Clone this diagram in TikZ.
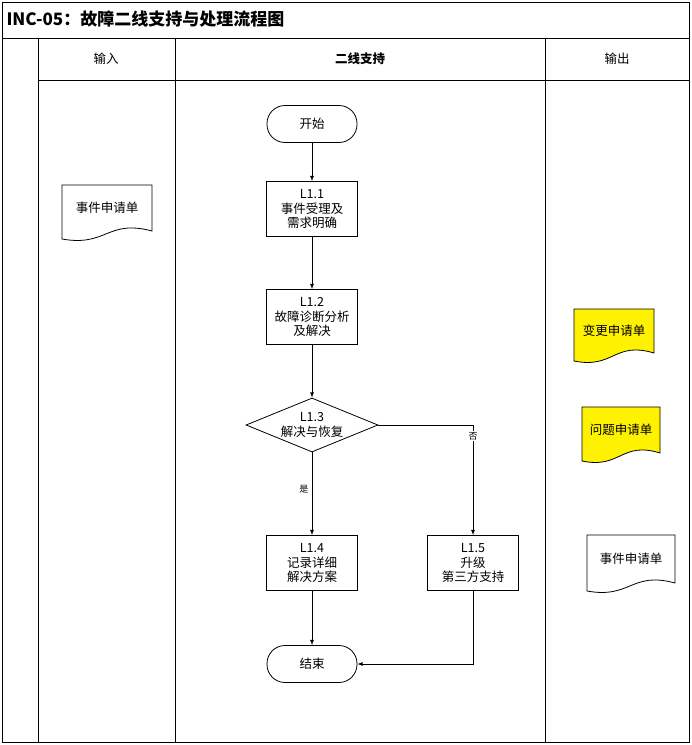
\documentclass[tikz,border=0pt]{standalone}
\usepackage{fontspec}
\setmainfont{Noto Sans CJK SC}
\usetikzlibrary{positioning,shapes,shapes.geometric,arrows,calc}

\tikzset{
  box/.style={draw, thick, fill=white, minimum width=91pt, minimum height=55pt, align=center, inner sep=1pt},
  term/.style={draw, thick, rounded corners=18pt, minimum width=90pt, minimum height=37pt},
  dec/.style={draw, thick, diamond, aspect=2.45, minimum width=132pt, minimum height=54pt, align=center, inner sep=0pt},
  flow/.style={thick, -latex},
  lane/.style={thick}
}
% document symbol: name, left x, top y, right x, bottom y, fill, text
\newcommand{\docnode}[7]{
  \draw[thick, fill=#6] (#2,#3) -- (#4,#3) -- (#4,#5-8)
    .. controls ({(#2+#4)/2},#5-20) and ({(#2+#4)/2},#5+8) .. (#2,#5) -- cycle;
  \node (#1) at ({(#2+#4)/2},{(#3+#5)/2-4}) {#7};
}

\begin{document}
\begin{tikzpicture}[x=1pt, y=-1pt, font=\fontsize{12.5}{14.5}\selectfont]
  \useasboundingbox (0,0) rectangle (692,745);
  % frame and lanes
  \draw[lane] (2,2) rectangle (689,742);
  \draw[lane] (2,38) -- (689,38);
  \draw[lane] (38,80) -- (689,80);
  \draw[lane] (38,38) -- (38,742);
  \draw[lane] (175,38) -- (175,742);
  \draw[lane] (545,38) -- (545,742);
  \node[anchor=west, font=\fontsize{17}{19}\selectfont\bfseries] (title) at (3,19) {INC-05：故障二线支持与处理流程图};
  \node (hin) at (106,59) {输入};
  \node[font=\fontsize{12.5}{14.5}\selectfont\bfseries] (hmid) at (360,59) {二线支持};
  \node (hout) at (617,59) {输出};

  % flow
  \node[term] (start) at (312,124) {开始};
  \node[box] (L11) at (312,209) {L1.1\\事件受理及\\需求明确};
  \node[box] (L12) at (312,317) {L1.2\\故障诊断分析\\及解决};
  \node[dec] (L13) at (312,425) {L1.3\\解决与恢复};
  \node[box] (L14) at (312,563) {L1.4\\记录详细\\解决方案};
  \node[box] (L15) at (473,563) {L1.5\\升级\\第三方支持};
  \node[term] (end) at (312,664) {结束};

  \draw[flow] (start) -- (L11);
  \draw[flow] (L11) -- (L12);
  \draw[flow] (L12) -- (L13);
  \draw[flow] (L13) -- (L14) node[pos=0.45, left, font=\small] {是};
  \draw[flow] (L13.east) -| (L15) node[pos=0.55, font=\small, fill=white, inner sep=1pt] {否};
  \draw[flow] (L14) -- (end);
  \draw[flow] (L15) |- (end);

  % documents
  \docnode{din}{62}{185}{152}{239}{white}{事件申请单}
  \docnode{dchg}{574}{309}{654}{361}{yellow}{变更申请单}
  \docnode{dprb}{582}{407}{660}{461}{yellow}{问题申请单}
  \docnode{dout}{587}{535}{675}{591}{white}{事件申请单}
\end{tikzpicture}
\end{document}
